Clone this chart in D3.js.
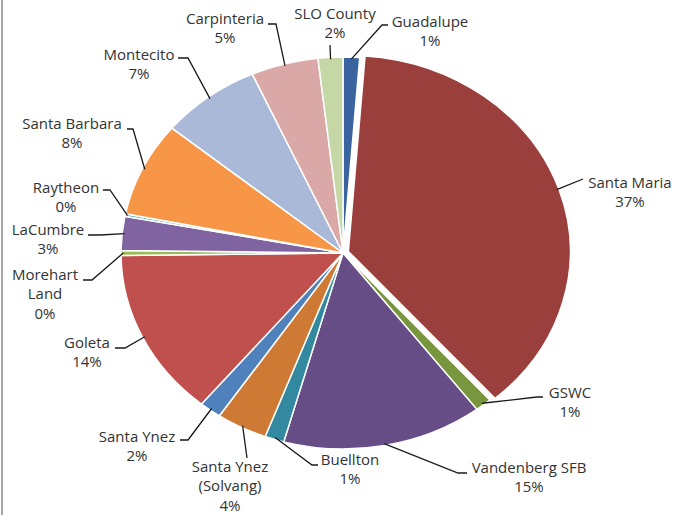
<!DOCTYPE html>
<html>
<head>
<meta charset="utf-8">
<script src="https://cdn.jsdelivr.net/npm/d3@7"></script>
<style>
body{margin:0;background:#fff}
</style>
</head>
<body>
<div id="chart"></div>
<script>

// DATA (clockwise from 12 o'clock)

const names = ["Guadalupe","Santa Maria","GSWC","Vandenberg SFB","Buellton","Santa Ynez (Solvang)","Santa Ynez","Goleta","Morehart Land","LaCumbre","Raytheon","Santa Barbara","Montecito","Carpinteria","SLO County"]
const values = [1.2,37.3,1.2,14.6,1.4,3.7,1.6,13.8,0.4,2.8,0.2,7.8,7.3,4.9,1.8]
const labelLines = [["Guadalupe"],["Santa Maria"],["GSWC"],["Vandenberg SFB"],["Buellton"],["Santa Ynez","(Solvang)"],["Santa Ynez"],["Goleta"],["Morehart","Land"],["LaCumbre"],["Raytheon"],["Santa Barbara"],["Montecito"],["Carpinteria"],["SLO County"]]
const colors = ["#3a64a0","#9b3f3d","#77963e","#664d85","#3289a0","#cf7a34","#4f81bd","#c0504d","#9bbb59","#8064a2","#4bacc6","#f79646","#a9b9d7","#d9a8a7","#c5d7a5"]
const exploded = ["Santa Maria"]

// -----------------------------
// LAYOUT
// -----------------------------

const width = 674
const height = 515
const cx = 343, cy = 253
const ry = 196
const sx = 222/196

// label text centre x, first baseline y, leader elbow x/y, tail direction
const labelPos = [
[430,27,382,25,6],
[630,188,583,179,0],
[570,398,537,397,6],
[529,473,458,473,9],
[350,465,312,465,6],
[230,472,247,458,0],
[137,442,188,440,-8],
[87,348,125,348,-10],
[45,280,92,280,-9],
[48,235,100,235,-12],
[66,193,110,190,-7],
[72,129,133,129,-6],
[139,60,188,58,-10],
[225,24,276,24,-8],
[335,19,330,45,0]
]

const svg = d3.select("#chart")
.append("svg")
.attr("width",width)
.attr("height",height)

svg.append("rect")
.attr("width",width)
.attr("height",height)
.attr("fill","#fff")

// left frame edge
svg.append("line")
.attr("x1",2).attr("x2",2)
.attr("y1",0).attr("y2",height)
.attr("stroke","#8a8a8a")
.attr("stroke-width",1.5)


// PIE

const pie = d3.pie().sort(null).value(d=>d).startAngle(0).endAngle(2*Math.PI)
const arcs = pie(values)

const arc = d3.arc().innerRadius(0).outerRadius(ry)

const explodeDist = 5

function offsetOf(i,a){
const mid = (a.startAngle+a.endAngle)/2
const e = exploded.includes(names[i]) ? explodeDist : 0
return [e*Math.sin(mid), -e*Math.cos(mid)]
}

const g = svg.append("g")
.attr("transform",`translate(${cx},${cy}) scale(${sx},1)`)

g.selectAll("path")
.data(arcs)
.enter()
.append("path")
.attr("d",arc)
.attr("transform",(d,i)=>{
const o = offsetOf(i,d)
return `translate(${o[0]},${o[1]})`
})
.attr("fill",(d,i)=>colors[i])
.attr("stroke","#fff")
.attr("stroke-width",1.5)
.attr("vector-effect","non-scaling-stroke")


// LEADER LINES

arcs.forEach((d,i)=>{
const mid = (d.startAngle+d.endAngle)/2
const o = offsetOf(i,d)
const r = ry - 2
const x0 = cx + sx*(r*Math.sin(mid) + o[0])
const y0 = cy - r*Math.cos(mid) + o[1]
const p = labelPos[i]
const pts = [[x0,y0],[p[2],p[3]]]
if(p[4]!==0) pts.push([p[2]+p[4],p[3]])
svg.append("path")
.attr("d",d3.line()(pts))
.attr("fill","none")
.attr("stroke","#1a1a1a")
.attr("stroke-width",1.3)
})


// LABELS

arcs.forEach((d,i)=>{
const p = labelPos[i]
const lines = labelLines[i].concat([Math.round(values[i])+"%"])
const t = svg.append("text")
.attr("x",p[0])
.attr("y",p[1])
.attr("text-anchor","middle")
.attr("font-family","'Open Sans', sans-serif")
.attr("font-size",15)
.attr("fill","#333")
lines.forEach((s,k)=>{
t.append("tspan")
.attr("x",p[0])
.attr("dy",k===0?0:19.3)
.text(s)
})
})

</script>
</body>
</html>
